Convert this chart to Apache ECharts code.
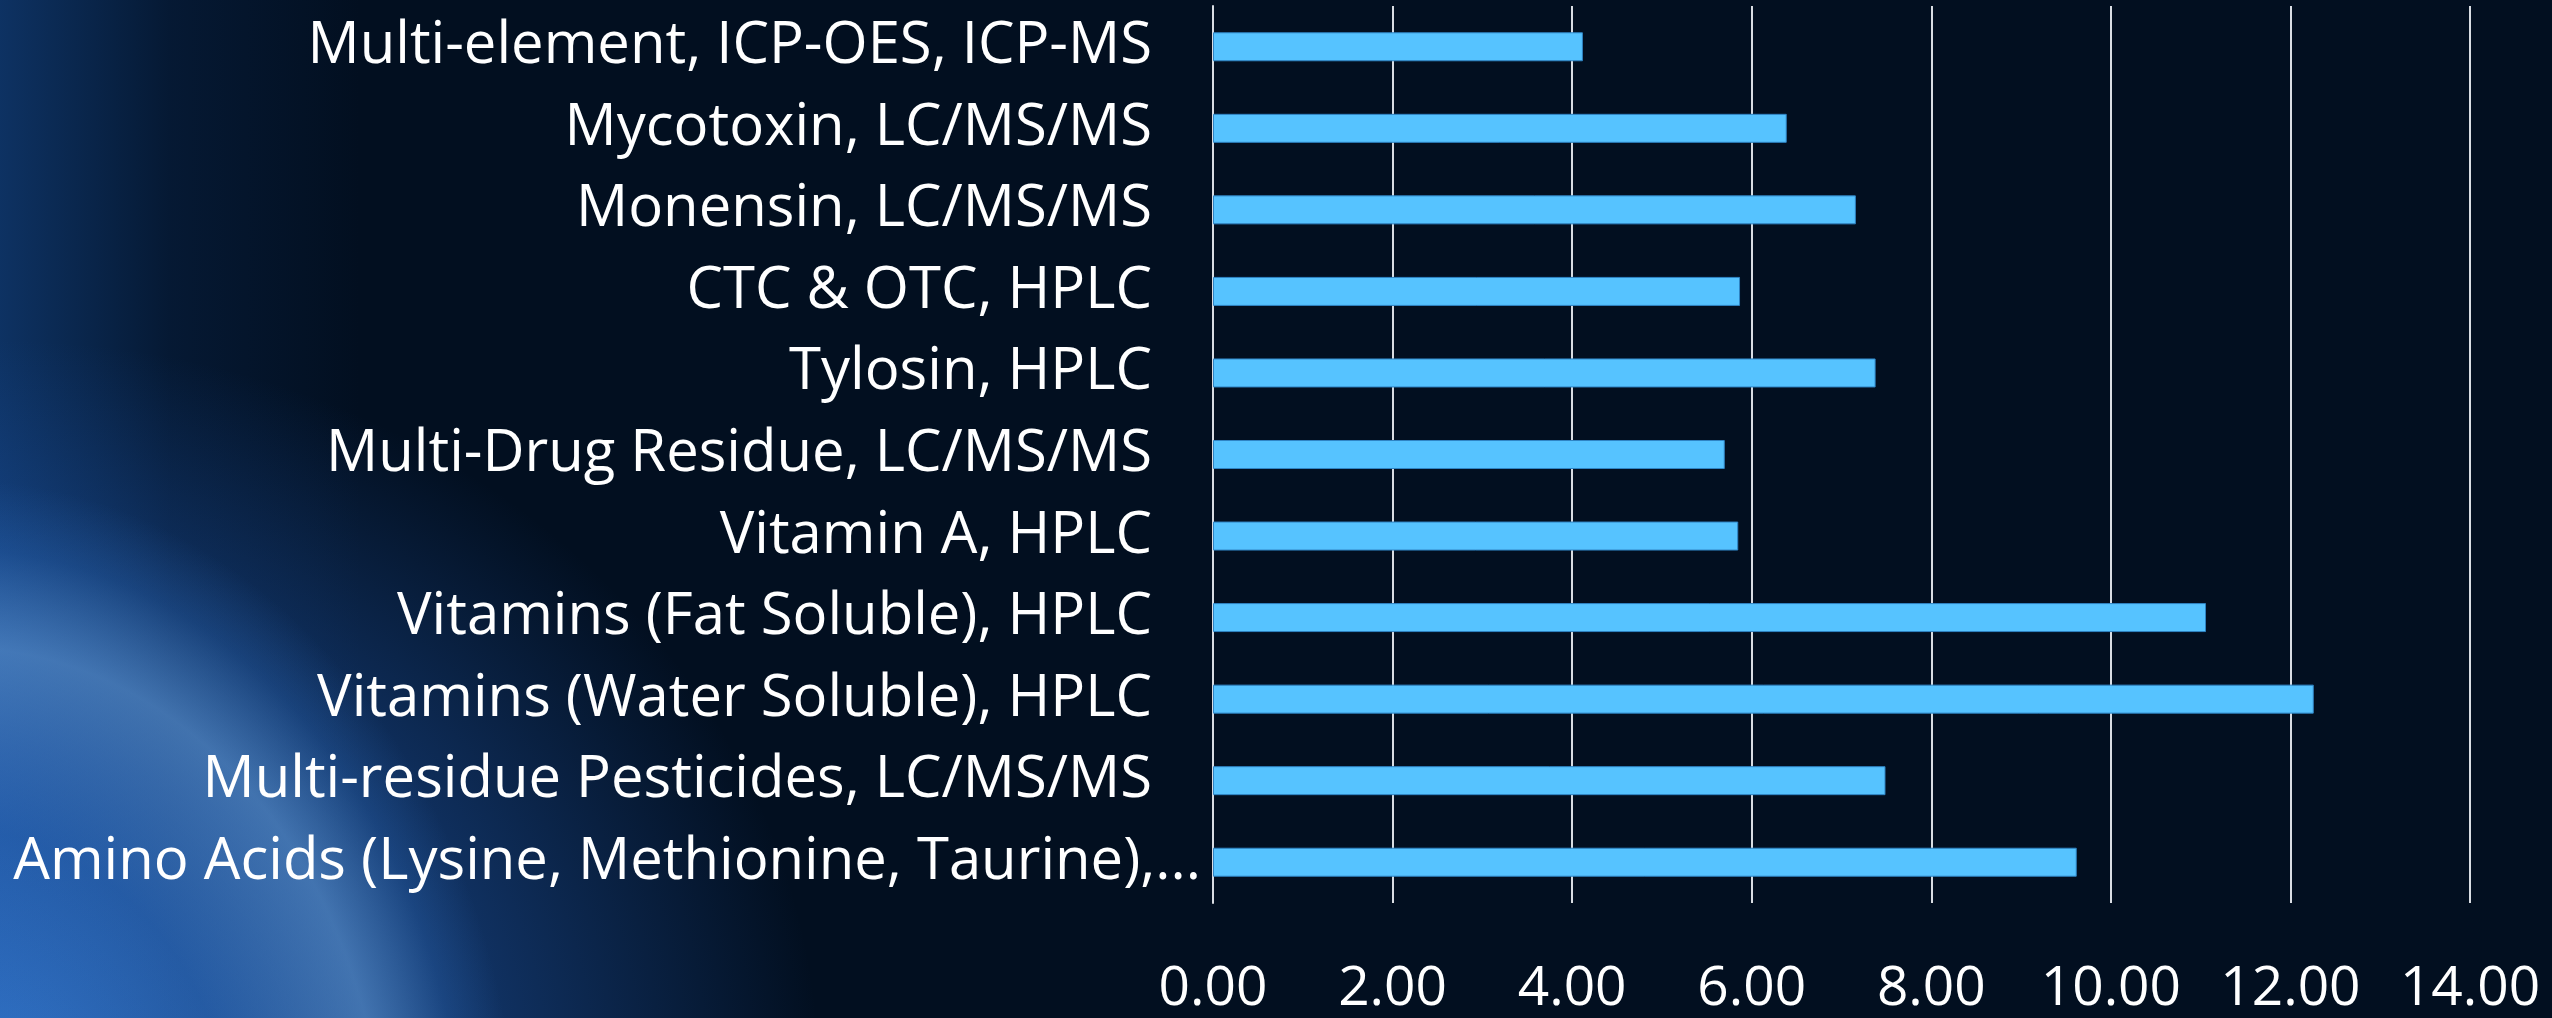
<!DOCTYPE html>
<html>
<head>
    <meta charset="utf-8">
    <title>Method turnaround</title>
    <script src="https://cdn.jsdelivr.net/npm/echarts@6/dist/echarts.min.js"></script>
    <style>
        html, body {
            margin: 0;
            padding: 0;
            width: 2552px;
            height: 1018px;
            overflow: hidden;
        }
        body {
            background-color: #020f20;
            background-image:
                radial-gradient(ellipse 560px 700px at -40px 1180px, rgba(20, 60, 130, 0) 0%, rgba(60, 130, 215, 0.15) 50%, rgba(120, 180, 240, 0.45) 76%, rgba(60, 130, 215, 0.2) 90%, rgba(20, 60, 130, 0) 100%),
                radial-gradient(ellipse 820px 740px at 0px 1080px, rgba(55, 125, 215, 0.85) 0%, rgba(35, 95, 185, 0.6) 45%, rgba(10, 40, 90, 0) 100%),
                linear-gradient(to right, rgba(25, 85, 165, 0.5) 0px, rgba(15, 55, 110, 0.25) 170px, rgba(2, 15, 32, 0) 360px);
        }
        #main {
            width: 2552px;
            height: 1018px;
        }
    </style>
</head>
<body>
<div id="main"></div>
<script>
    // top to bottom, as in the picture
    var categories = [
        'Multi-element, ICP-OES, ICP-MS',
        'Mycotoxin, LC/MS/MS',
        'Monensin, LC/MS/MS',
        'CTC & OTC, HPLC',
        'Tylosin, HPLC',
        'Multi-Drug Residue, LC/MS/MS',
        'Vitamin A, HPLC',
        'Vitamins (Fat Soluble), HPLC',
        'Vitamins (Water Soluble), HPLC',
        'Multi-residue Pesticides, LC/MS/MS',
        'Amino Acids (Lysine, Methionine, Taurine),...'
    ];
    var values = [4.12, 6.39, 7.16, 5.87, 7.38, 5.70, 5.85, 11.06, 12.26, 7.49, 9.62];
    var xTicks = [0, 2, 4, 6, 8, 10, 12, 14];

    var labelFont = '"Open Sans", Lato, sans-serif';

    // the long (cut) label sits closer to the axis than the others
    var catData = [];
    for (var i = 0; i < categories.length; i++) {
        var item = {value: categories[i]};
        if (i === categories.length - 1) {
            item.textStyle = {padding: [0, 0, 0, 0]};
        }
        catData.push(item);
    }

    var myChart = echarts.init(document.getElementById('main'));
    var option = {
        backgroundColor: 'transparent',
        animation: false,
        grid: {
            left: 1213,
            top: 6,
            width: 1257,
            height: 897
        },
        xAxis: {
            type: 'value',
            min: xTicks[0],
            max: xTicks[xTicks.length - 1],
            interval: xTicks[1] - xTicks[0],
            axisLine: {show: false},
            axisTick: {show: false},
            splitLine: {
                show: true,
                lineStyle: {color: '#d9dde3', width: 2}
            },
            axisLabel: {
                color: '#ffffff',
                fontFamily: labelFont,
                fontSize: 55,
                margin: 86,
                verticalAlign: 'middle',
                formatter: function (v) {
                    return v.toFixed(2);
                }
            }
        },
        yAxis: {
            type: 'category',
            inverse: true,
            data: catData,
            axisLine: {
                show: true,
                lineStyle: {color: '#d9dde3', width: 2}
            },
            axisTick: {show: false},
            axisLabel: {
                color: '#ffffff',
                fontFamily: labelFont,
                fontSize: 58,
                margin: 12,
                padding: [0, 49, 0, 0]
            }
        },
        series: [
            {
                type: 'bar',
                data: values,
                barWidth: 29,
                itemStyle: {
                    color: '#56c3ff',
                    borderColor: '#2f84c4',
                    borderWidth: 1
                }
            }
        ]
    };
    myChart.setOption(option);
</script>
</body>
</html>
